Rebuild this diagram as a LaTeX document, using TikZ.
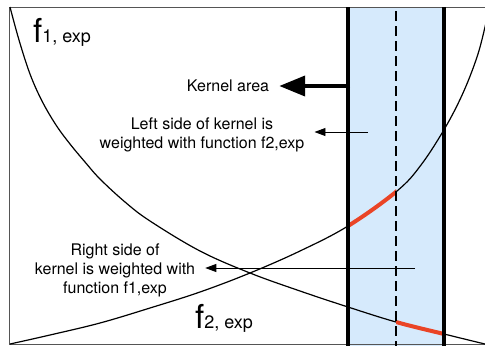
\documentclass[tikz,border=0pt]{standalone}
\usepackage{fontspec}
\setmainfont{TeX Gyre Heros}
\usetikzlibrary{arrows.meta}
\definecolor{bandblue}{RGB}{214,234,252}
\definecolor{hotred}{RGB}{234,68,38}
\definecolor{framec}{RGB}{85,85,85}
\newcommand{\foneplot}{plot[smooth,tension=0.6] coordinates {(10,7) (19,40) (30,74) (42,101) (56,125) (70,144) (85,162) (100,179) (125,202) (150,221) (200,251) (250,273) (300,291) (348,307) (396,322) (444,334) (485,344) (495,346)}}
\newcommand{\ftwoplot}{plot[smooth,tension=0.6] coordinates {(10,344) (50,335) (100,323) (150,308) (200,292) (250,273) (300,251) (348,226) (397,191) (421,165) (445,128) (463,93) (477,57) (485,27) (489,7)}}
\begin{document}
\begin{tikzpicture}[x=1pt,y=-1pt,
  curve/.style={line width=1.2pt, black},
  hot/.style={line width=4pt, hotred},
  kline/.style={line width=3.3pt, black},
  txt/.style={font=\fontsize{16}{19}\selectfont, align=center, inner xsep=10pt, inner ysep=0pt},
  thinarrow/.style={line width=0.9pt, -{Triangle[length=11pt,width=8pt]}},
  thickarrow/.style={line width=4pt, -{Triangle[length=26pt,width=20pt]}}]
\useasboundingbox (0,0) rectangle (485,346);
\clip (0,0) rectangle (485,346);
% kernel band
\fill[bandblue] (348,7) rectangle (444,346);
% frame
\draw[framec, line width=1pt] (485,7) -- (9,7) -- (9,344) -- (485,344);
% curves
\draw[curve] \foneplot;
\draw[curve] \ftwoplot;
\begin{scope}
  \clip (348,0) rectangle (396,346);
  \draw[hot] \ftwoplot;
\end{scope}
\begin{scope}
  \clip (396,0) rectangle (444,346);
  \draw[hot] \foneplot;
\end{scope}
% kernel borders and centre
\draw[kline] (348,7) -- (348,346);
\draw[kline] (444,7) -- (444,346);
\draw[line width=2.2pt, dash pattern=on 10pt off 5pt] (396,11) -- (396,346);
% labels
\node[anchor=base west, inner sep=0pt] (fone) at (33,42)
  {{\fontsize{33}{33}\selectfont f}{\fontsize{18}{18}\selectfont 1, exp}};
\node[anchor=base west, inner sep=0pt] (ftwo) at (195,328)
  {{\fontsize{33}{33}\selectfont f}{\fontsize{18}{18}\selectfont 2, exp}};
\node[txt, anchor=base] (kernel) at (228,91) {Kernel area};
\node[txt] (left) at (202,134.5) {Left side of kernel is\\weighted with function f2,exp};
\node[txt] (right) at (115,270.5) {Right side of\\kernel is weighted with\\function f1,exp};
% arrows
\coordinate (ktail) at (350,86);
\coordinate (ltail) at (368,132);
\coordinate (rtail) at (415,268);
\draw[thickarrow] (ktail) -- (ktail -| kernel.east);
\draw[thinarrow] (ltail) -- (ltail -| left.east);
\draw[thinarrow] (rtail) -- (rtail -| right.east);
\end{tikzpicture}
\end{document}
